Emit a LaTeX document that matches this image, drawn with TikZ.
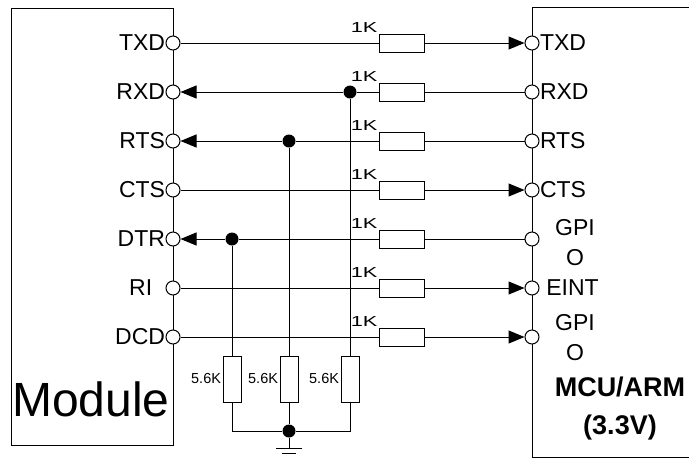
\documentclass[tikz,border=0pt]{standalone}
\usepackage{fontspec}
\setmainfont{Liberation Sans}
\usepackage{tikz}
\usetikzlibrary{shapes.geometric, arrows.meta}
\tikzstyle{pin} = [circle, minimum size=14pt, inner sep=0pt, draw=black, fill=white]
\tikzstyle{dot} = [circle, minimum size=13pt, inner sep=0pt, fill=black]
\tikzstyle{res} = [rectangle, minimum width=45pt, minimum height=18pt, inner sep=0pt, draw=black, fill=white]
\tikzstyle{vres} = [rectangle, minimum width=18pt, minimum height=46pt, inner sep=0pt, draw=black, fill=white]
\tikzstyle{sig} = [inner sep=0pt, align=center, font=\fontsize{23}{30}\selectfont]
\tikzstyle{val} = [inner sep=1pt, font=\fontsize{14.5}{14.5}\selectfont]
\tikzstyle{arrow} = [->, >={Triangle[length=16pt, width=13pt]}]
\newcommand{\kone}{\scalebox{1.5}[1]{1K}}

\begin{document}
\begin{tikzpicture}[x=1pt, y=-1pt, line width=1pt, node distance=49pt]
\useasboundingbox (0,0) rectangle (689,459);

\draw (11,8) rectangle (173,445);
\draw (689,7) -- (532,7) -- (532,457) -- (689,457);

\node (mod) [font=\fontsize{48}{48}\selectfont] at (91,399) {Module};
\node (mcu) [align=center, font=\bfseries\fontsize{27}{38}\selectfont] at (620,409) {MCU/ARM\\(3.3V)};

\node (L1) [pin, label={[sig]left:TXD}] at (173,43) {};
\node (L2) [pin, below of=L1, label={[sig]left:RXD}] {};
\node (L3) [pin, below of=L2, label={[sig]left:RTS}] {};
\node (L4) [pin, below of=L3, label={[sig]left:CTS}] {};
\node (L5) [pin, below of=L4, label={[sig]left:DTR}] {};
\node (L6) [pin, below of=L5, label={[sig]left:RI~~}] {};
\node (L7) [pin, below of=L6, label={[sig]left:DCD}] {};

\node (r1) [res, right of=L1, node distance=229pt, label={[val]north west:\kone}] {};
\node (r2) [res, below of=r1, label={[val]north west:\kone}] {};
\node (r3) [res, below of=r2, label={[val]north west:\kone}] {};
\node (r4) [res, below of=r3, label={[val]north west:\kone}] {};
\node (r5) [res, below of=r4, label={[val]north west:\kone}] {};
\node (r6) [res, below of=r5, label={[val]north west:\kone}] {};
\node (r7) [res, below of=r6, label={[val]north west:\kone}] {};

\node (R1) [pin, right of=r1, node distance=130pt, label={[sig]right:TXD}] {};
\node (R2) [pin, below of=R1, label={[sig]right:RXD}] {};
\node (R3) [pin, below of=R2, label={[sig]right:RTS}] {};
\node (R4) [pin, below of=R3, label={[sig]right:CTS}] {};
\node (R5) [pin, below of=R4] {};
\node (R6) [pin, below of=R5, label={[sig]right:~EINT}] {};
\node (R7) [pin, below of=R6] {};
\node (gpio1) [sig, right of=R5, node distance=43pt, yshift=-4pt] {GPI\\O};
\node (gpio2) [sig, right of=R7, node distance=43pt, yshift=-1pt] {GPI\\O};

\node (d2) [dot, right of=L2, node distance=177pt] {};
\node (d3) [dot, right of=L3, node distance=116pt] {};
\node (d5) [dot, right of=L5, node distance=59pt] {};

\node (v1) [vres, below of=d5, node distance=140pt, label={[val]left:5.6K}] {};
\node (v2) [vres, below of=d3, node distance=238pt, label={[val]left:5.6K}] {};
\node (v3) [vres, below of=d2, node distance=287pt, label={[val]left:5.6K}] {};
\node (g) [dot, below of=v2, node distance=52pt] {};
\node (gnd) [coordinate, below of=g, node distance=17pt] {};

% TXD, CTS, RI, DCD: module to MCU
\draw (L1) -- (r1);
\draw [arrow] (r1) -- (R1);
\draw (L4) -- (r4);
\draw [arrow] (r4) -- (R4);
\draw (L6) -- (r6);
\draw [arrow] (r6) -- (R6);
\draw (L7) -- (r7);
\draw [arrow] (r7) -- (R7);

% RXD, RTS, DTR: MCU to module
\draw [arrow] (d2) -- (L2);
\draw (d2) -- (r2);
\draw (r2) -- (R2);
\draw [arrow] (d3) -- (L3);
\draw (d3) -- (r3);
\draw (r3) -- (R3);
\draw [arrow] (d5) -- (L5);
\draw (d5) -- (r5);
\draw (r5) -- (R5);

% pull-downs
\draw (d5) -- (v1);
\draw (d3) -- (v2);
\draw (d2) -- (v3);
\draw (v1) |- (g);
\draw (v2) -- (g);
\draw (g) -| (v3);
\draw (g) -- (gnd);
\draw ([xshift=-13pt]gnd) -- ([xshift=13pt]gnd);
\draw ([xshift=-7pt, yshift=-5pt]gnd) -- ([xshift=7pt, yshift=-5pt]gnd);

\end{tikzpicture}
\end{document}
